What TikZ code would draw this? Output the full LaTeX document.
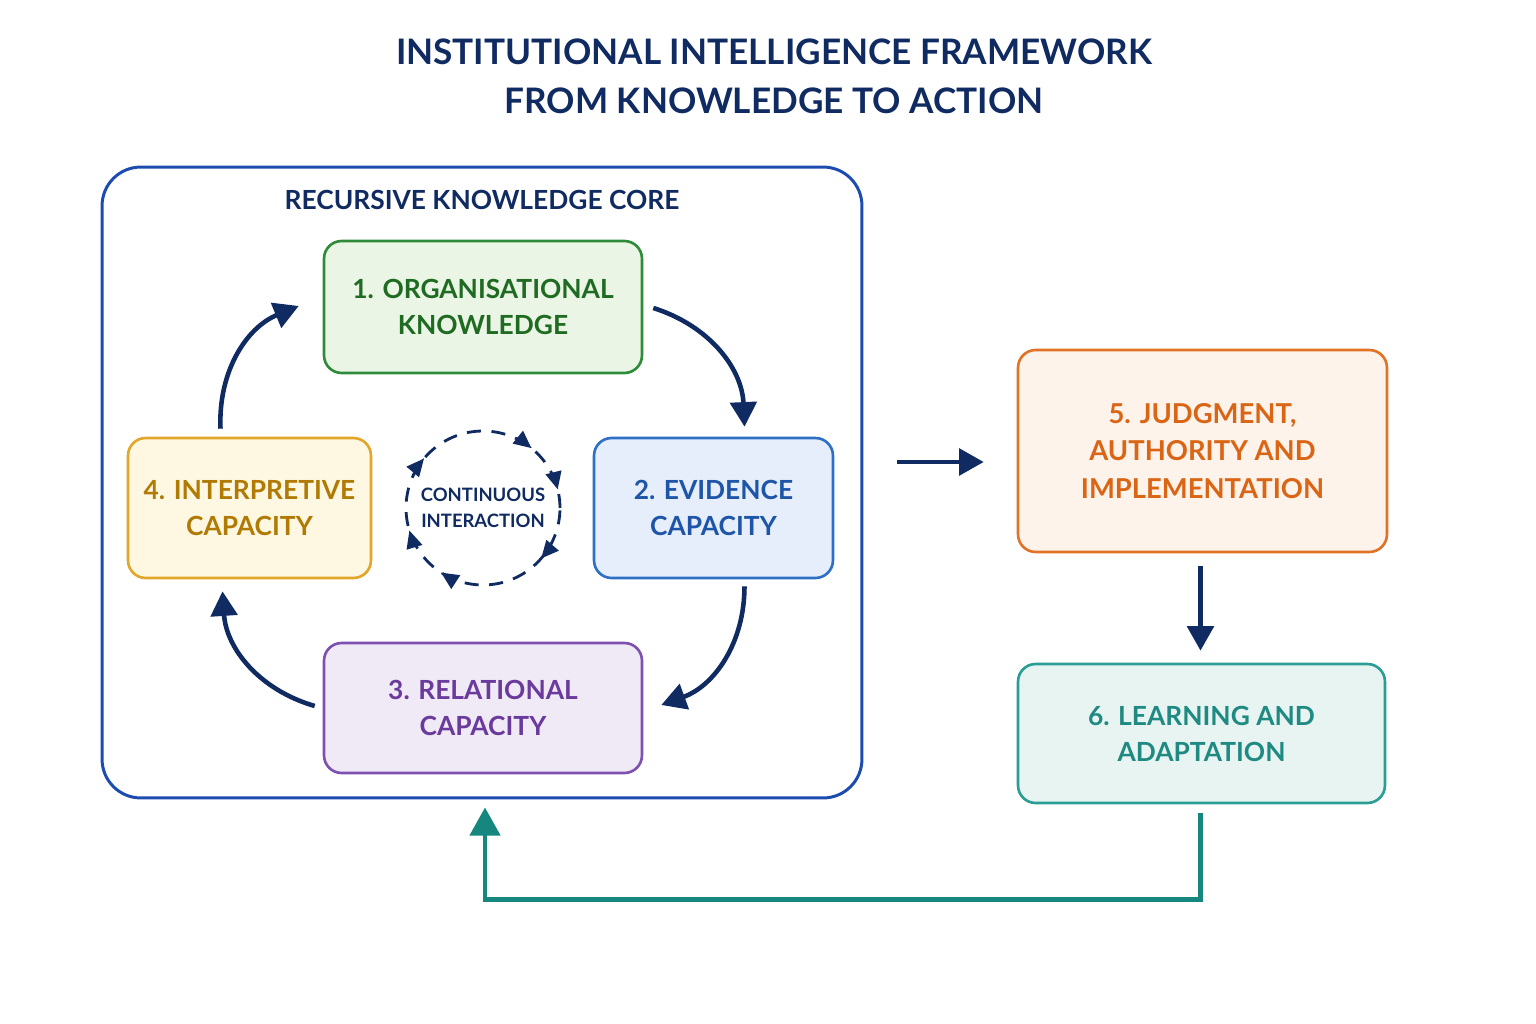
\documentclass[tikz,border=0pt]{standalone}
\usepackage{fontspec}
\setmainfont{Lato}
\usetikzlibrary{arrows.meta,calc,shapes}
\definecolor{navy}{HTML}{102A62}
\definecolor{coreblue}{HTML}{1D4CB0}
\definecolor{kgreen}{HTML}{2E8B3A}
\definecolor{kgreenbg}{HTML}{EAF5E5}
\definecolor{kgreentx}{HTML}{1F6B22}
\definecolor{eblue}{HTML}{2F6FC6}
\definecolor{ebluebg}{HTML}{E5EEFA}
\definecolor{ebluetx}{HTML}{1E55A8}
\definecolor{rpurple}{HTML}{7E50B0}
\definecolor{rpurplebg}{HTML}{F0E9F6}
\definecolor{rpurpletx}{HTML}{6A3A9C}
\definecolor{igold}{HTML}{E2A62A}
\definecolor{igoldbg}{HTML}{FEF7E1}
\definecolor{igoldtx}{HTML}{B07A05}
\definecolor{jorange}{HTML}{E07325}
\definecolor{jorangebg}{HTML}{FEF3EB}
\definecolor{jorangetx}{HTML}{D96515}
\definecolor{lteal}{HTML}{2A9D94}
\definecolor{ltealbg}{HTML}{E7F4F2}
\definecolor{ltealtx}{HTML}{1E8A82}
\definecolor{fbteal}{HTML}{16877F}

\begin{document}
\begin{tikzpicture}[x=0.02cm,y=0.02cm,>={Triangle[length=14pt,width=15pt]}]
 \tikzstyle{stage}=[draw,line width=1.5pt,rounded corners=10pt,align=center,inner sep=0pt,font=\bfseries\fontsize{15}{20.5}\selectfont]
 \tikzstyle{flow}=[->,draw=navy,line width=2.6pt]
 \useasboundingbox (0,0) rectangle (1536,-1024);

 \node (title) at (774,-76) [text=navy,align=center,font=\bfseries\fontsize{20}{28}\selectfont] {INSTITUTIONAL INTELLIGENCE FRAMEWORK\\FROM KNOWLEDGE TO ACTION};

 \node (core) at (482,-482.5) [draw=coreblue,line width=1.7pt,rounded corners=22pt,minimum width=15.2cm,minimum height=12.62cm] {};
 \node (corename) at (482,-200) [text=navy,font=\bfseries\fontsize{15}{18}\selectfont] {RECURSIVE KNOWLEDGE CORE};

 \node (A) at (483,-307) [stage,draw=kgreen,fill=kgreenbg,text=kgreentx,minimum width=6.36cm,minimum height=2.64cm] {1. ORGANISATIONAL\\KNOWLEDGE};
 \node (B) at (713.5,-508) [stage,draw=eblue,fill=ebluebg,text=ebluetx,minimum width=4.78cm,minimum height=2.8cm] {2. EVIDENCE\\CAPACITY};
 \node (C) at (483,-708) [stage,draw=rpurple,fill=rpurplebg,text=rpurpletx,minimum width=6.36cm,minimum height=2.6cm] {3. RELATIONAL\\CAPACITY};
 \node (D) at (249.5,-508) [stage,draw=igold,fill=igoldbg,text=igoldtx,minimum width=4.86cm,minimum height=2.8cm] {4. INTERPRETIVE\\CAPACITY};
 \node (E) at (1202.5,-451) [stage,draw=jorange,fill=jorangebg,text=jorangetx,minimum width=7.38cm,minimum height=4.04cm,font=\bfseries\fontsize{15.6}{21.5}\selectfont] {5. JUDGMENT,\\AUTHORITY AND\\IMPLEMENTATION};
 \node (F) at (1201.5,-733.5) [stage,draw=lteal,fill=ltealbg,text=ltealtx,minimum width=7.34cm,minimum height=2.78cm] {6. LEARNING AND\\ADAPTATION};

 % inner loop
 \node (loop) at (483,-508) [circle,draw=navy,line width=1.6pt,dash pattern=on 8pt off 6pt,minimum size=3.08cm,align=center,text=navy,font=\bfseries\fontsize{10.5}{15}\selectfont] {CONTINUOUS\\INTERACTION};
 \foreach \a in {51,14,-41,-123,-163,140}
   \draw[-{Triangle[length=10pt,width=9pt]},navy,line width=1.6pt] ($(loop.center)+(\a+9:77)$) arc (\a+9:\a:77);

 % cycle
 \draw[flow] ($(D.north)+(-29,8)$) to[bend left=35] ($(A.west)+(-24,1)$);
 \draw[flow] ($(A.east)+(10,-1)$) to[bend left=35] ($(B.north)+(31,10)$);
 \draw[flow] ($(B.south)+(31,-7)$) to[bend left=35] ($(C.east)+(18,3)$);
 \draw[flow] ($(C.west)+(-8,2)$) to[bend left=35] ($(D.south)+(-27,-12)$);

 \draw[flow] ($(core.east)+(34,20.5)$) -- ($(E.west)+(-33,-11)$);
 \draw[flow] ($(E.south)+(-2,-13)$) -- ($(F.north)+(-1,12)$);

 % feedback
 \draw[->,draw=fbteal,line width=2.8pt,>={Triangle[length=16pt,width=17pt]}] ($(F.south)+(-1,-9)$) |- ($(core.south)+(3,-100)$) -- ($(core.south)+(3,-8)$);
\end{tikzpicture}
\end{document}
